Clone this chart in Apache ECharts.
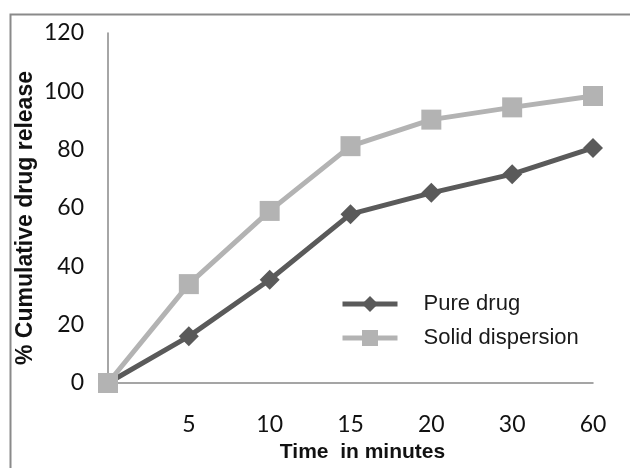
<!DOCTYPE html>
<html>
<head>
<meta charset="utf-8">
<script src="https://cdn.jsdelivr.net/npm/echarts@6/dist/echarts.min.js"></script>
<style>
html,body{margin:0;padding:0;background:#fff;}
#c{width:630px;height:468px;}
</style>
</head>
<body>
<div id="c"></div>
<script>
var categories = ['0', '5', '10', '15', '20', '30', '60'];
var pureDrug = [0, 16, 35.4, 57.9, 65.2, 71.6, 80.6];
var solidDispersion = [0, 33.9, 59, 81.2, 90.3, 94.5, 98.4];
var yTicks = { min: 0, max: 120, interval: 20 };

var chart = echarts.init(document.getElementById('c'));
chart.setOption({
  animation: false,
  backgroundColor: '#fff',
  graphic: [{
    type: 'rect', left: 8, top: 12,
    shape: { width: 640, height: 470 },
    style: { fill: 'none', stroke: '#8a8a8a', lineWidth: 2 },
    silent: true, z: -1
  }],
  grid: { left: 108, right: 37, top: 33, bottom: 85, containLabel: false },
  legend: {
    orient: 'vertical',
    left: 340, top: 293, padding: 0,
    itemWidth: 55, itemHeight: 20, itemGap: 12,
    lineStyle: { width: 5 },
    textStyle: { fontFamily: 'Liberation Sans', fontSize: 22, color: '#1a1a1a', padding: [0, 0, 0, 21], lineHeight: 22 },
    data: ['Pure drug', 'Solid dispersion']
  },
  xAxis: {
    type: 'category',
    data: categories,
    boundaryGap: false,
    axisLine: { lineStyle: { color: '#888', width: 1.5 } },
    axisTick: { show: false },
    axisLabel: {
      interval: function (idx) { return idx > 0; },
      margin: 30,
      fontFamily: 'Lato', fontSize: 23, color: '#111'
    },
    splitLine: { show: false },
    name: 'Time  in minutes',
    nameLocation: 'middle',
    nameGap: 59,
    nameMoveOverlap: false,
    nameTextStyle: { fontFamily: 'Liberation Sans', fontWeight: 'bold', fontSize: 21, color: '#111', padding: [0, 0, 0, 24] }
  },
  yAxis: {
    type: 'value',
    min: yTicks.min, max: yTicks.max, interval: yTicks.interval,
    axisLine: { show: true, lineStyle: { color: '#888', width: 1.5 } },
    axisTick: { show: false },
    splitLine: { show: false },
    axisLabel: { margin: 24, fontFamily: 'Lato', fontSize: 23, color: '#111' },
    name: '% Cumulative drug release',
    nameLocation: 'middle',
    nameGap: 71,
    nameMoveOverlap: false,
    nameTextStyle: { fontFamily: 'Liberation Sans', fontWeight: 'bold', fontSize: 23, color: '#111', padding: [0, 20, 0, 0] }
  },
  series: [
    {
      name: 'Pure drug', type: 'line', data: pureDrug,
      symbol: 'diamond', symbolSize: 20,
      lineStyle: { color: '#5a5a5a', width: 5 },
      itemStyle: { color: '#5a5a5a' },
      z: 2
    },
    {
      name: 'Solid dispersion', type: 'line', data: solidDispersion,
      symbol: 'rect', symbolSize: 20,
      lineStyle: { color: '#b3b3b3', width: 5 },
      itemStyle: { color: '#b3b3b3' },
      z: 3
    }
  ]
});
</script>
</body>
</html>
